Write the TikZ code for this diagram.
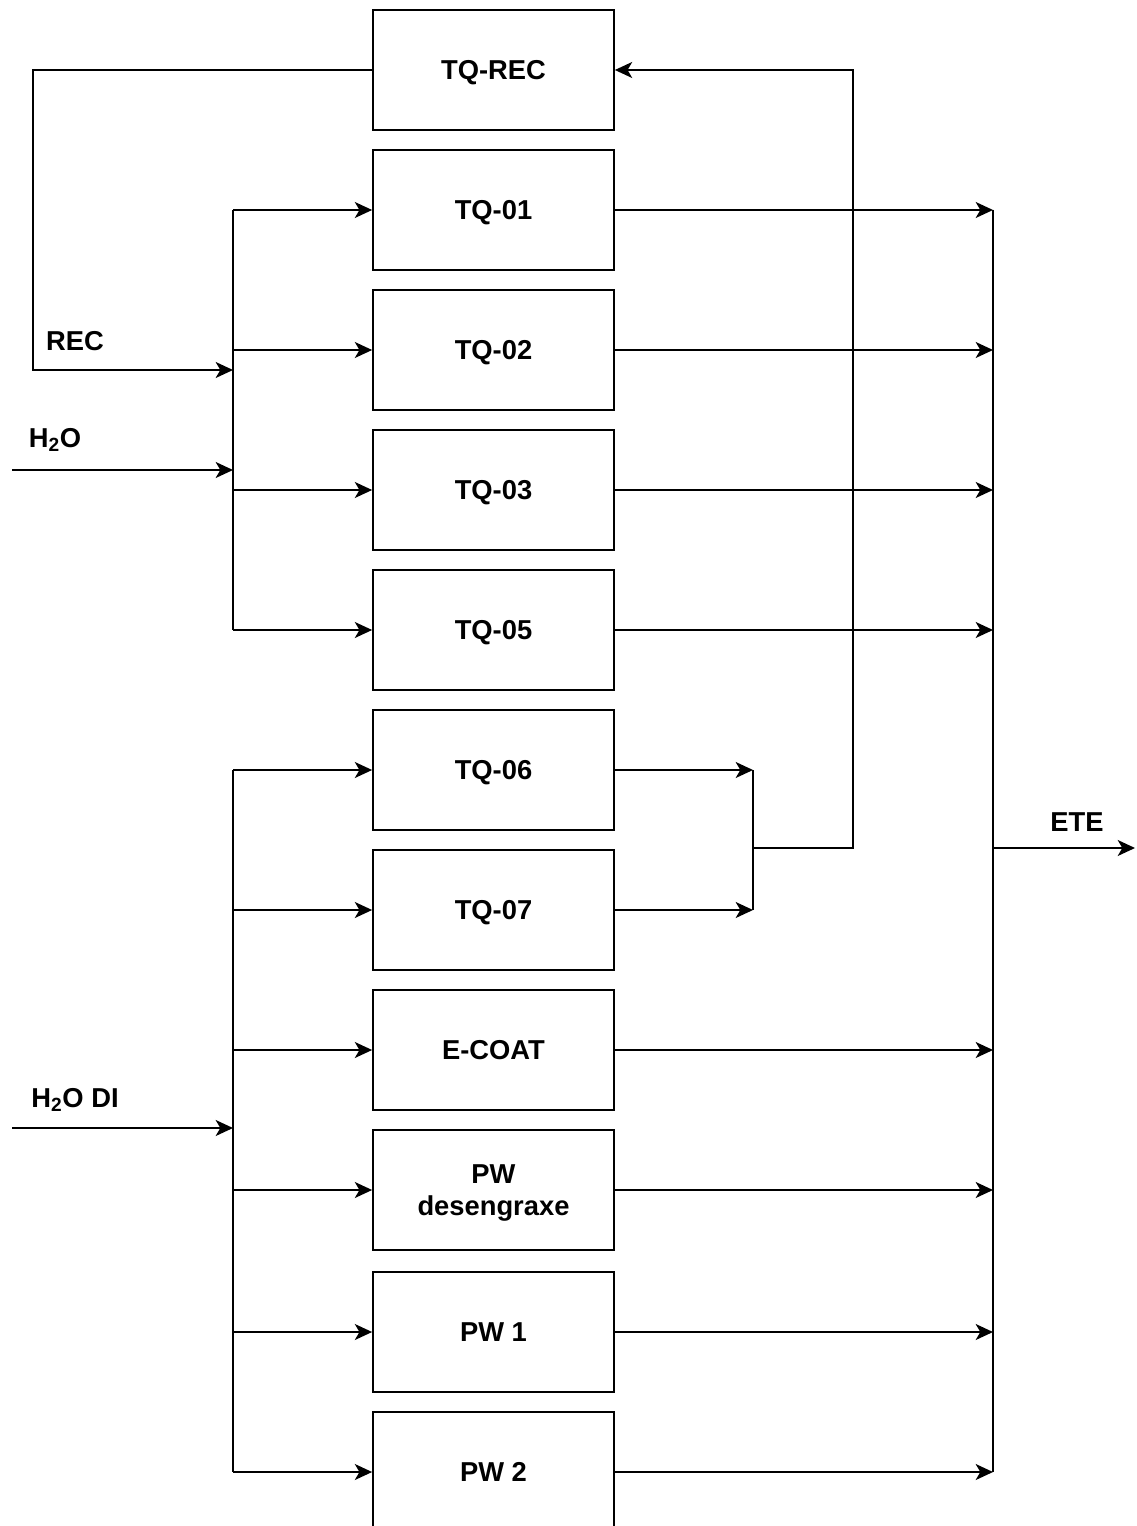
\documentclass[tikz,border=0pt]{standalone}
\usepackage{fontspec}
\setmainfont{Liberation Sans}
\usetikzlibrary{arrows.meta}

\tikzset{
tank/.style={draw,line width=1.3pt,minimum width=180.75pt,minimum height=90pt,inner sep=0.75pt,align=center,text depth=0pt,font=\fontsize{20.5}{24}\selectfont\bfseries},
lbl/.style={inner sep=0.75pt,font=\fontsize{20.5}{24}\selectfont\bfseries},
pipe/.style={line width=1.3pt},
flow/.style={pipe,-{Stealth[length=13pt,width=12pt,inset=3.5pt]}}
}

\begin{document}
\begin{tikzpicture}[x=0.75pt,y=0.75pt,yscale=-1,xscale=1]

\useasboundingbox (0,0) rectangle (1136,1526);

\node [tank] (rec) at (493.5,70) {TQ-REC};

\node [tank] (t01) at (493.5,210) {TQ-01};

\node [tank] (t02) at (493.5,350) {TQ-02};

\node [tank] (t03) at (493.5,490) {TQ-03};

\node [tank] (t05) at (493.5,630) {TQ-05};

\node [tank] (t06) at (493.5,770) {TQ-06};

\node [tank] (t07) at (493.5,910) {TQ-07};

\node [tank] (ecoat) at (493.5,1050) {E-COAT};

\node [tank] (pwd) at (493.5,1190) {PW\\desengraxe};

\node [tank] (pw1) at (493.5,1332) {PW 1};

\node [tank] (pw2) at (493.5,1472) {PW 2};

\coordinate (inA) at (233,0);

\coordinate (outB) at (993,0);

\coordinate (jn) at (753,0);

\coordinate (recL) at (33,70);

\coordinate (recIn) at (233,370);

\coordinate (h2o) at (12,470);

\coordinate (h2odi) at (12,1128);

\coordinate (mid) at (753,848);

\coordinate (up) at (853,848);

\coordinate (ete) at (1135,848);

\draw [flow] (rec.west) -- (recL) |- (recIn);

\draw [flow] (h2o) -- (h2o -| inA);

\draw [flow] (h2odi) -- (h2odi -| inA);

\draw [pipe] (inA |- t01.west) -- (inA |- t05.west);

\draw [pipe] (inA |- t06.west) -- (inA |- pw2.west);

\foreach \t in {t01,t02,t03,t05,t06,t07,ecoat,pwd,pw1,pw2} {
\draw [flow] (inA |- \t.west) -- (\t.west);
}

\foreach \t in {t01,t02,t03,t05,ecoat,pwd,pw1,pw2} {
\draw [flow] (\t.east) -- (\t.east -| outB);
}

\draw [flow] (t06.east) -- (t06.east -| jn);

\draw [flow] (t07.east) -- (t07.east -| jn);

\draw [pipe] (t06.east -| jn) -- (t07.east -| jn);

\draw [flow] (mid) -- (up) |- (rec.east);

\draw [pipe] (outB |- t01.east) -- (outB |- pw2.east);

\draw [flow] (outB |- ete) -- (ete);

\node [lbl] (recT) at (75,341) {REC};

\node [lbl] (h2oT) at (55,440) {H\textsubscript{2}O};

\node [lbl] (h2odiT) at (75,1100) {H\textsubscript{2}O DI};

\node [lbl] (eteT) at (1077,822) {ETE};

\end{tikzpicture}
\end{document}
